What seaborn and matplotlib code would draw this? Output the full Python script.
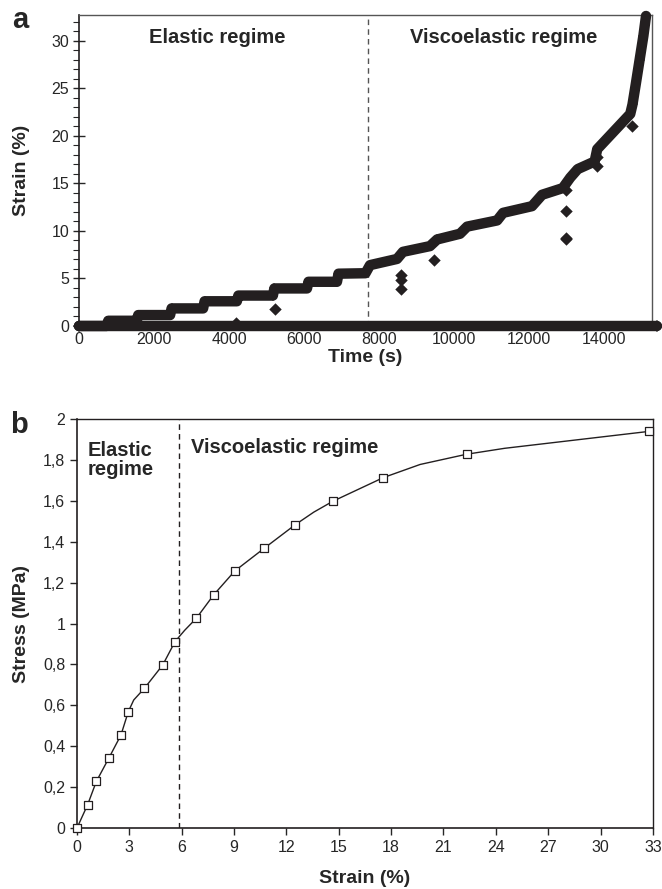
import numpy as np
import pandas as pd
import seaborn as sns
from matplotlib import pyplot as plt
from matplotlib.ticker import MultipleLocator

# ---- panel a : creep test, strain vs time ----
creep_time = [0, 740, 780, 1540, 1580, 2430, 2470, 3310, 3350, 4210, 4250,
              5170, 5210, 6080, 6120, 6880, 6920, 7640, 7760, 8480, 8640,
              9360, 9550, 10160, 10350, 11150, 11310, 12080, 12350, 12900,
              13100, 13300, 13750, 13820, 14700, 14760, 14850, 14950, 15050,
              15120]
creep_strain = [0, 0, 0.55, 0.55, 1.15, 1.15, 1.85, 1.85, 2.6, 2.6, 3.2,
                3.2, 3.95, 3.95, 4.65, 4.65, 5.5, 5.55, 6.4, 7.05, 7.8,
                8.4, 9.1, 9.7, 10.45, 11.1, 11.9, 12.6, 13.8, 14.5,
                15.6, 16.5, 17.3, 18.6, 22.3, 23.3, 25.5, 28.0, 30.5,
                32.6]
# stray readings below the curve
stray_time = [4200, 5240, 8590, 8590, 8590, 9480, 12980, 12980, 12980,
              13000, 13800, 13800, 14740]
stray_strain = [0.35, 1.75, 5.37, 4.84, 3.86, 6.95, 14.3, 12.1, 9.1,
                9.3, 17.8, 16.8, 21.0]
# second series lying on zero over the whole test
base_time = [0, 15400]
base_strain = [0, 0]
limit_time = 7700

time_ticks = [0, 2000, 4000, 6000, 8000, 10000, 12000, 14000]
strain_ticks_a = [0, 5, 10, 15, 20, 25, 30]

# ---- panel b : stress vs strain ----
curve_strain = [0, 0.61, 1.11, 1.82, 2.52, 2.94, 3.25, 3.86, 4.91, 5.62,
                6.17, 6.84, 7.83, 9.04, 10.74, 12.50, 13.57, 14.66, 17.56,
                19.66, 22.32, 24.5, 32.8]
curve_stress = [0, 0.114, 0.228, 0.341, 0.455, 0.569, 0.626, 0.683, 0.797,
                0.912, 0.967, 1.026, 1.140, 1.257, 1.369, 1.483, 1.545,
                1.598, 1.714, 1.778, 1.828, 1.857, 1.940]
point_strain = [0, 0.61, 1.11, 1.82, 2.52, 2.94, 3.86, 4.91, 5.62, 6.84,
                7.83, 9.04, 10.74, 12.50, 14.66, 17.56, 22.32, 32.8]
point_stress = [0, 0.114, 0.228, 0.341, 0.455, 0.569, 0.683, 0.797, 0.912,
                1.026, 1.140, 1.257, 1.369, 1.483, 1.598, 1.714, 1.828,
                1.940]
limit_strain = 5.82

strain_ticks_b = [0, 3, 6, 9, 12, 15, 18, 21, 24, 27, 30, 33]
stress_ticks = [0, 0.2, 0.4, 0.6, 0.8, 1.0, 1.2, 1.4, 1.6, 1.8, 2.0]
stress_labels = ["0", "0,2", "0,4", "0,6", "0,8", "1", "1,2", "1,4",
                 "1,6", "1,8", "2"]

sns.set_theme(style="ticks")
plt.rcParams['font.family'] = ['Liberation Sans', 'DejaVu Sans']

ink = "#231f20"
fig = plt.figure(figsize=(6.62, 8.89), dpi=100)
ax1 = fig.add_axes([0.1193, 0.6333, 0.8656, 0.3498])
ax2 = fig.add_axes([0.1163, 0.0686, 0.8700, 0.4600])

# panel a
sns.lineplot(x=base_time, y=base_strain, ax=ax1, color=ink, lw=7.5,
             estimator=None, sort=False, marker="D", markersize=6.5,
             markeredgewidth=0, clip_on=False, zorder=3)
sns.lineplot(x=creep_time, y=creep_strain, ax=ax1, color=ink, lw=7.5,
             estimator=None, sort=False, marker="D", markersize=5,
             markeredgewidth=0, clip_on=False, zorder=3)
sns.scatterplot(x=stray_time, y=stray_strain, ax=ax1, marker="D", s=40,
                color=ink, linewidth=0, zorder=3)
ax1.axvline(limit_time, color="#555555", lw=1, ls=(0, (4, 3)), zorder=1)

ax1.set_xlim(0, 15280)
ax1.set_ylim(0, 32.7)
ax1.set_xticks(time_ticks)
ax1.set_yticks(strain_ticks_a)
ax1.yaxis.set_minor_locator(MultipleLocator(1))
ax1.tick_params(axis="y", which="major", direction="inout", length=8,
                width=1, labelsize=11.5, pad=3)
ax1.tick_params(axis="y", which="minor", direction="out", length=4, width=0.8)
ax1.tick_params(axis="x", length=0, labelsize=11.5, pad=4)
for side in ["top", "right"]:
    ax1.spines[side].set_visible(True)
    ax1.spines[side].set_color("#555555")
    ax1.spines[side].set_linewidth(1)
ax1.spines["left"].set_color(ink)
ax1.spines["left"].set_linewidth(1.2)

ax1.set_xlabel("Time (s)", fontsize=14, weight="bold", va="center")
ax1.xaxis.set_label_coords(0.5, -0.1)
ax1.set_ylabel("Strain (%)", fontsize=14, weight="bold", va="center")
ax1.yaxis.set_label_coords(-0.0995, 0.5)

ax1.text(3680, 30.3, "Elastic regime", fontsize=14.5, weight="bold",
         ha="center", va="center")
ax1.text(11330, 30.3, "Viscoelastic regime", fontsize=14.5, weight="bold",
         ha="center", va="center")

# panel b
sns.lineplot(x=curve_strain, y=curve_stress, ax=ax2, color=ink, lw=1,
             estimator=None, sort=False, zorder=2)
sns.scatterplot(x=point_strain, y=point_stress, ax=ax2, marker="s", s=26,
                facecolor="white", edgecolor=ink, linewidth=0.9, zorder=3,
                clip_on=False)
ax2.axvline(limit_strain, color=ink, lw=1, ls=(0, (4, 3)), zorder=1)

ax2.set_xlim(0, 33)
ax2.set_ylim(0, 2)
ax2.set_xticks(strain_ticks_b)
ax2.set_yticks(stress_ticks)
ax2.set_yticklabels(stress_labels)
ax2.tick_params(axis="both", direction="out", length=5, width=1,
                labelsize=11.5)
for side in ["top", "right"]:
    ax2.spines[side].set_visible(True)
    ax2.spines[side].set_color(ink)
    ax2.spines[side].set_linewidth(1)
for side in ["left", "bottom"]:
    ax2.spines[side].set_color(ink)
    ax2.spines[side].set_linewidth(1.2)

ax2.set_xlabel("Strain (%)", fontsize=14, weight="bold", va="center")
ax2.xaxis.set_label_coords(0.5, -0.124)
ax2.set_ylabel("Stress (MPa)", fontsize=14, weight="bold", va="center")
ax2.yaxis.set_label_coords(-0.0955, 0.5)

ax2.text(0.6, 1.895, "Elastic\nregime", fontsize=14.5, weight="bold",
         ha="left", va="top", linespacing=1.05)
ax2.text(6.53, 1.86, "Viscoelastic regime", fontsize=14.5, weight="bold",
         ha="left", va="center")

# panel letters
fig.text(12 / 662, 1 - 28 / 889, "a", fontsize=21, weight="bold",
         va="baseline")
fig.text(10 / 662, 1 - 433 / 889, "b", fontsize=21, weight="bold",
         va="baseline")

fig.savefig("out.png", dpi=100)
